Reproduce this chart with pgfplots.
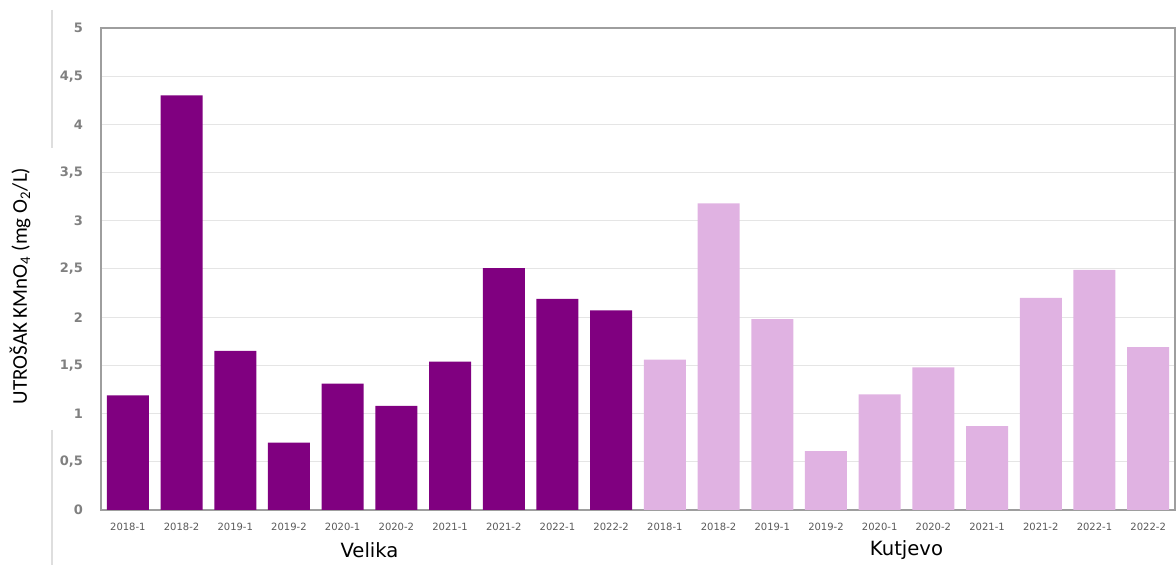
\documentclass[border=0pt]{standalone}
\usepackage{pgfplots}
\pgfplotsset{compat=1.18}
\usepackage{fontspec}
\setmainfont{Carlito}
\newfontfamily\vfont{DejaVu Sans}
\definecolor{velika}{RGB}{128,0,128}
\definecolor{kutjevo}{RGB}{224,178,226}
\definecolor{tickgray}{RGB}{128,128,128}
\definecolor{xtickgray}{RGB}{89,89,89}
\begin{document}
\begin{tikzpicture}
\useasboundingbox (-50.5pt,-27.5pt) rectangle (537.5pt,255pt);
\begin{axis}[
  at={(0,0)}, anchor=south west,
  scale only axis, width=537pt, height=241pt,
  xmin=-0.5, xmax=19.5, ymin=0, ymax=5,
  ybar, bar width=21pt, bar shift=0pt,
  xtick={0,...,19},
  xticklabels={2018-1,2018-2,2019-1,2019-2,2020-1,2020-2,2021-1,2021-2,2022-1,2022-2,2018-1,2018-2,2019-1,2019-2,2020-1,2020-2,2021-1,2021-2,2022-1,2022-2},
  ytick={0,0.5,...,5},
  yticklabel style={/pgf/number format/use comma, /pgf/number format/fixed, /pgf/number format/precision=1, /pgf/number format/assume math mode=true, font=\vfont\bfseries\fontsize{6.5}{8}\selectfont, text=tickgray, xshift=-5.5pt},
  xticklabel style={font=\vfont\fontsize{5}{6}\selectfont, text=xtickgray, yshift=-3pt},
  major tick length=0pt,
  ymajorgrids, grid style={draw=black!10, line width=0.5pt},
  axis line style={draw=black!38, line width=0.6pt},
  clip=false,
]
\addplot[fill=velika, draw=none] coordinates {(0,1.19) (1,4.30) (2,1.65) (3,0.70) (4,1.31) (5,1.08) (6,1.54) (7,2.51) (8,2.19) (9,2.07)};
\addplot[fill=kutjevo, draw=none] coordinates {(10,1.56) (11,3.18) (12,1.98) (13,0.61) (14,1.20) (15,1.48) (16,0.87) (17,2.20) (18,2.49) (19,1.69)};
\node[font=\vfont\fontsize{9.8}{12}\selectfont] at (axis cs:4.5,0) [yshift=-20pt] {Velika};
\node[font=\vfont\fontsize{9.8}{12}\selectfont] at (axis cs:14.5,0) [yshift=-20pt] {Kutjevo};
\end{axis}
\draw[black!13, line width=0.6pt] (-24.5pt,250pt) -- (-24.5pt,181pt);
\draw[black!13, line width=0.6pt] (-24.5pt,40pt) -- (-24.5pt,-27.5pt);
\node[rotate=90, font=\fontsize{10.5}{12}\selectfont] at (-40.5pt,112pt) {UTROŠAK KMnO\textsubscript{4} (mg O\textsubscript{2}/L)};
\end{tikzpicture}
\end{document}
